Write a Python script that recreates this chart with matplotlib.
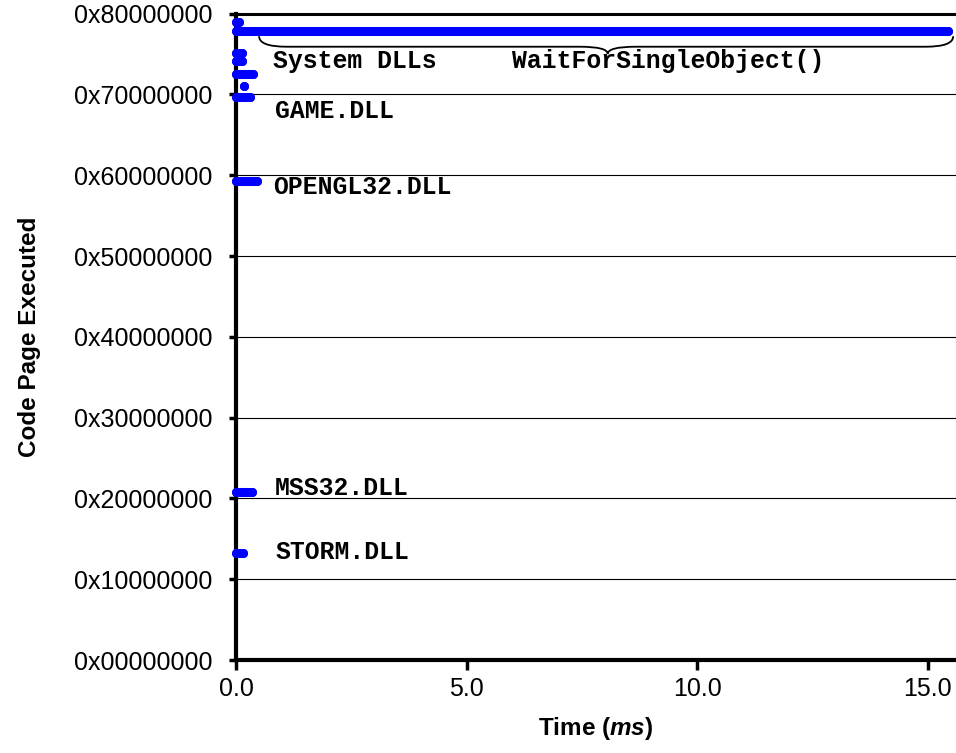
import matplotlib.pyplot as plt
from matplotlib.path import Path
from matplotlib.patches import PathPatch
from matplotlib.ticker import FuncFormatter

## code pages that were hit, with the first and last time (ms) each one was seen
page_addr = [0x7E400000, 0x7C800000, 0x78200000, 0x76A00000, 0x74000000,
             0x71A00000, 0x6F800000, 0x5ED00000, 0x21300000, 0x15200000]
t_start = [0.0, 0.0, 0.0, 0.0, 0.0, 0.17, 0.0, 0.0, 0.0, 0.0]
t_end = [0.06, 15.43, 0.13, 0.13, 0.37, 0.17, 0.30, 0.46, 0.35, 0.15]

## module labels: text, time where text starts, address of the baseline
label_text = ['System DLLs', 'WaitForSingleObject()', 'GAME.DLL', 'OPENGL32.DLL', 'MSS32.DLL', 'STORM.DLL']
label_t = [0.80, 5.99, 0.85, 0.80, 0.85, 0.85]
label_addr = [0x75400000, 0x75400000, 0x6B500000, 0x5C500000, 0x20B00000, 0x13F00000]

x_ticks = [0.0, 5.0, 10.0, 15.0]
y_ticks = [i * 0x10000000 for i in range(9)]

plt.rcParams['font.family'] = 'Liberation Sans'
plt.rcParams['mathtext.fontset'] = 'custom'
plt.rcParams['mathtext.it'] = 'Liberation Sans:italic:bold'

fig = plt.figure(figsize=(9.56, 7.53), dpi=100)
ax = fig.add_axes([236 / 956, 1 - 660 / 753, 720 / 956, 646.4 / 753])

## one thick round-capped stroke per page (single point if start == end)
for addr, t0, t1 in zip(page_addr, t_start, t_end):
    ax.plot([t0, t1], [addr, addr], color='#0000ff', lw=6.5, solid_capstyle='round',
            marker='o', ms=6.5, mec='none', zorder=4, clip_on=False)

## curly brace under the WaitForSingleObject() line
u = 0x10000000
x0, x1, xm = 0.5, 15.55, 8.06
y_end, y_flat, y_tip = 7.72 * u, 7.59 * u, 7.50 * u
verts = [(x0, y_end), (x0, y_flat), (x0 + 0.6, y_flat),
         (xm - 0.6, y_flat), (xm, y_flat), (xm, y_tip),
         (xm, y_flat), (xm + 0.6, y_flat),
         (x1 - 0.6, y_flat), (x1, y_flat), (x1, y_end)]
codes = [Path.MOVETO, Path.CURVE3, Path.CURVE3,
         Path.LINETO, Path.CURVE3, Path.CURVE3,
         Path.CURVE3, Path.CURVE3,
         Path.LINETO, Path.CURVE3, Path.CURVE3]
ax.add_patch(PathPatch(Path(verts, codes), fill=False, lw=1.3, color='black', zorder=3))

for txt, t, addr in zip(label_text, label_t, label_addr):
    ax.text(t, addr, txt, family='Liberation Mono', weight='bold', fontsize=17.8,
            ha='left', va='baseline', zorder=5)

ax.set_xlim(0, 15.61)
ax.set_ylim(0, 0x80000000)
ax.set_xticks(x_ticks)
ax.set_yticks(y_ticks)
ax.xaxis.set_major_formatter(FuncFormatter(lambda v, p: '%.1f' % v))
ax.yaxis.set_major_formatter(FuncFormatter(lambda v, p: '0x%08X' % int(v)))
ax.tick_params(axis='both', labelsize=18, width=2.5, direction='out')
ax.tick_params(axis='y', length=5, pad=12)
ax.tick_params(axis='x', length=7, pad=5)

## horizontal grid only
ax.grid(axis='y', color='black', lw=0.8)
ax.set_axisbelow(True)

ax.spines['right'].set_visible(False)
ax.spines['left'].set_linewidth(3)
ax.spines['bottom'].set_linewidth(3)
ax.spines['top'].set_linewidth(2.2)

ax.set_xlabel(r'Time ($\mathit{ms}$)', fontsize=17.5, weight='bold', labelpad=10)
ax.set_ylabel('Code Page Executed', fontsize=17.5, weight='bold', labelpad=24)

fig.savefig('out.png', dpi=100)
